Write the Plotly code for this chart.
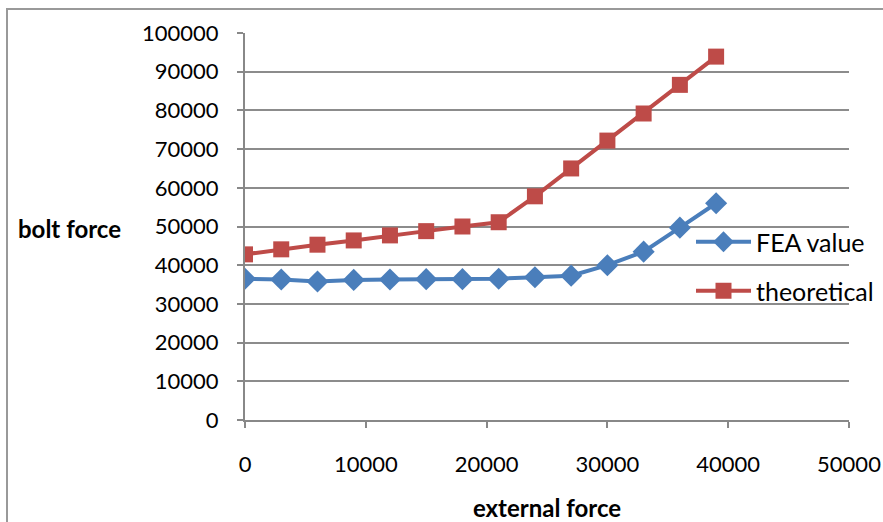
import plotly.graph_objects as go

external_force = [0, 3000, 6000, 9000, 12000, 15000, 18000, 21000, 24000, 27000, 30000, 33000, 36000, 39000]
fea_value = [36500, 36300, 35800, 36200, 36300, 36400, 36400, 36500, 36900, 37300, 40000, 43500, 49700, 56000]
theoretical = [42800, 44100, 45300, 46400, 47700, 48800, 50000, 51100, 57800, 65000, 72200, 79200, 86600, 93900]
x_ticks = [0, 10000, 20000, 30000, 40000, 50000]
y_ticks = [0, 10000, 20000, 30000, 40000, 50000, 60000, 70000, 80000, 90000, 100000]

W, H = 883, 522
L, R, T, B = 245, 34, 33, 102
pw, ph = W - L - R, H - T - B

def px(x):
    return (x - L) / pw

def py(y):
    return (H - B - y) / ph

fig = go.Figure()
fig.add_trace(go.Scatter(
    x=external_force, y=fea_value, name="FEA value", mode="lines+markers",
    line=dict(color="#4A7EBB", width=4),
    marker=dict(symbol="diamond", size=17, color="#4A7EBB"),
    legend="legend", showlegend=True,
))
fig.add_trace(go.Scatter(
    x=external_force, y=theoretical, name="theoretical", mode="lines+markers",
    line=dict(color="#BE4B48", width=4),
    marker=dict(symbol="square", size=16, color="#BE4B48"),
    legend="legend2", showlegend=True,
))

axis_font = dict(family="Lato, Calibri", size=22, color="#000")
leg_font = dict(family="Lato, Calibri", size=25, color="#000")
fig.update_layout(
    width=W, height=H, showlegend=True,
    margin=dict(l=L, r=R, t=T, b=B, autoexpand=False),
    paper_bgcolor="white", plot_bgcolor="white",
    xaxis=dict(
        range=[0, 50000], tickvals=x_ticks, ticktext=[str(v) for v in x_ticks],
        showgrid=False, zeroline=False, showline=True, linecolor="#888", linewidth=2,
        ticks="outside", ticklen=6, tickcolor="#888", tickwidth=2, automargin=False,
        tickfont=axis_font, ticklabelstandoff=18,
        title=dict(text="<b>external force</b>", font=dict(family="Lato, Calibri", size=24, color="#000"), standoff=25),
    ),
    yaxis=dict(
        range=[0, 100000], tickvals=y_ticks, ticktext=[str(v) for v in y_ticks],
        showgrid=True, gridcolor="#8c8c8c", gridwidth=2, zeroline=False,
        showline=True, linecolor="#888", linewidth=2, automargin=False,
        ticks="outside", ticklen=6, tickcolor="#888", tickwidth=2,
        tickfont=axis_font, ticklabelstandoff=14,
    ),
    legend=dict(x=px(691), y=py(242), xanchor="left", yanchor="middle", itemwidth=55,
                font=leg_font, bgcolor="rgba(0,0,0,0)"),
    legend2=dict(x=px(691), y=py(291), xanchor="left", yanchor="middle", itemwidth=55,
                 font=leg_font, bgcolor="rgba(0,0,0,0)"),
    annotations=[dict(
        text="<b>bolt force</b>", xref="paper", yref="paper", x=px(16), y=py(228),
        xanchor="left", yanchor="middle", showarrow=False,
        font=dict(family="Lato, Calibri", size=24, color="#000"),
    )],
    shapes=[
        dict(type="line", xref="paper", yref="paper", x0=px(7), x1=px(7), y0=py(8), y1=py(530),
             line=dict(color="#999", width=2)),
        dict(type="line", xref="paper", yref="paper", x0=px(6), x1=px(890), y0=py(9), y1=py(9),
             line=dict(color="#999", width=2)),
    ],
)

fig.write_html("out.html")
